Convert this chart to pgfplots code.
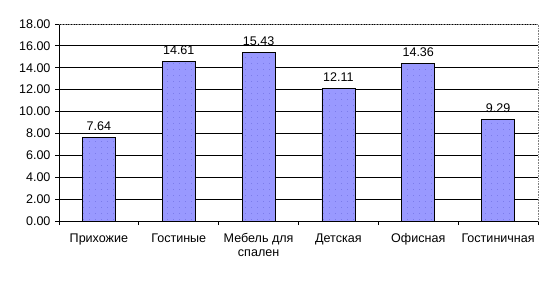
\documentclass[border=0pt]{standalone}
\usepackage{pgfplots}
\pgfplotsset{compat=1.18}
\usepackage{fontspec}
\setmainfont{Liberation Sans}
\usetikzlibrary{patterns.meta}
\definecolor{barfill}{HTML}{9999FF}
\definecolor{dotc}{HTML}{6666DD}
\begin{document}
\begin{tikzpicture}[x=1bp,y=1bp]
\useasboundingbox (0,0) rectangle (552,284);
\begin{axis}[
  at={(59bp,63bp)}, anchor=south west,
  scale only axis, width=479bp, height=197bp,
  xmin=-0.5, xmax=5.5, ymin=0, ymax=18,
  axis x line*=bottom, axis y line*=left,
  axis line style={black, line width=0.8pt},
  xtick={0,1,2,3,4,5},
  xticklabels={Прихожие,Гостиные,{Мебель для\\спален},Детская,Офисная,Гостиничная},
  x tick label style={font=\fontsize{12.6}{14}\selectfont, align=center, anchor=north, yshift=-5bp, text depth=0pt},
  major x tick style={draw=none},
  minor xtick={-0.5,0.5,1.5,2.5,3.5,4.5,5.5},
  minor tick length=4bp,
  minor x tick style={black, line width=0.8pt},
  ytick={0,2,...,18},
  major tick length=4bp,
  tick align=outside,
  major y tick style={black, line width=0.8pt},
  y tick label style={font=\fontsize{12.6}{14}\selectfont, xshift=-1bp},
  yticklabel style={/pgf/number format/.cd, fixed, fixed zerofill, precision=2, assume math mode=true},
  ymajorgrids,
  grid style={black, line width=0.8pt},
  ybar, bar width=33bp,
  nodes near coords,
  nodes near coords style={font=\fontsize{12.6}{14}\selectfont, anchor=base, yshift=7bp, /pgf/number format/.cd, fixed, fixed zerofill, precision=2, assume math mode=true},
  clip=false,
]
\addplot[draw=black, line width=0.8pt, fill=barfill, postaction={pattern={Dots[distance=6bp, radius=0.4bp]}, pattern color=dotc}] coordinates {(0,7.64) (1,14.61) (2,15.43) (3,12.11) (4,14.36) (5,9.29)};
\draw[gray, densely dotted, line width=0.6pt] (rel axis cs:0,1) -- (rel axis cs:1,1) -- (rel axis cs:1,0);
\end{axis}
\end{tikzpicture}
\end{document}
